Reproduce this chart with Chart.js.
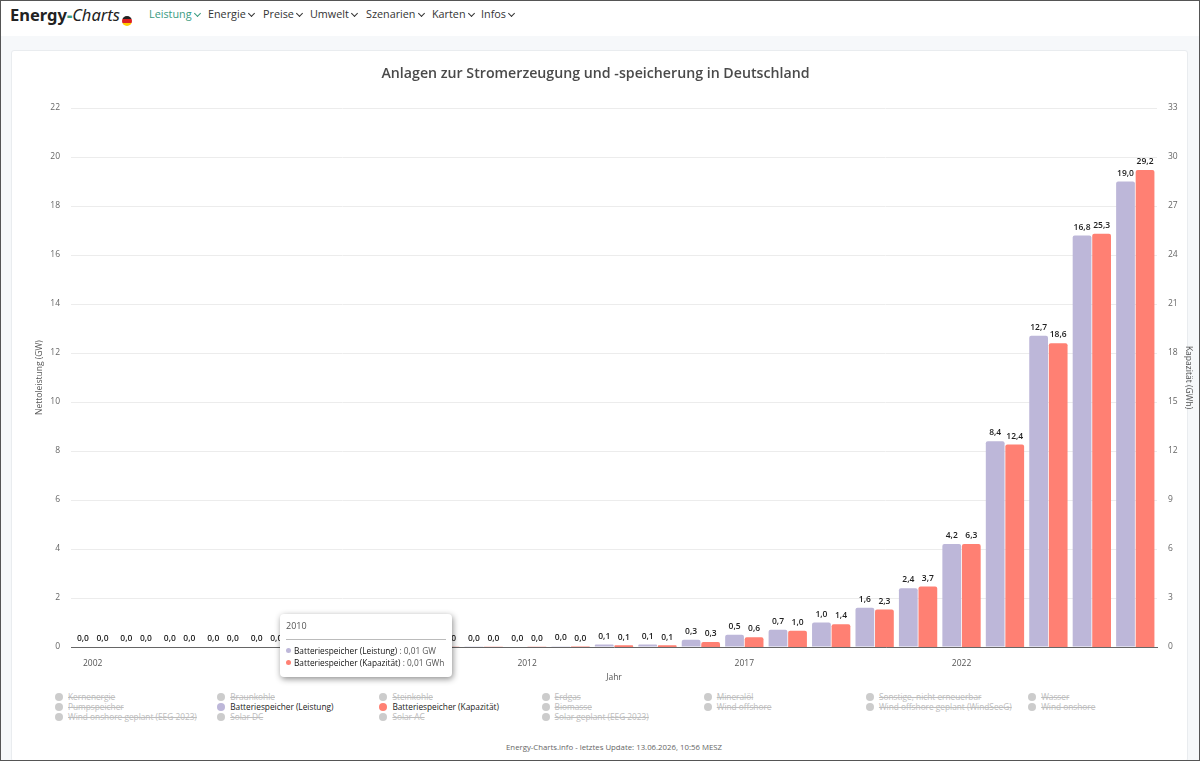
<!DOCTYPE html>
<html lang="de">
<head>
<meta charset="utf-8">
<title>Energy-Charts</title>
<script src="https://cdn.jsdelivr.net/npm/chart.js@4"></script>
<style>
    html, body { margin: 0; padding: 0; }
    body {
        width: 1200px; height: 761px; position: relative; overflow: hidden;
        background: #f6f8fa; font-family: "Open Sans", "Noto Sans", sans-serif; color: #333;
    }
    #frame { position: absolute; inset: 0; border: 1px solid #555; pointer-events: none; z-index: 9; }
    nav { position: absolute; left: 0; top: 0; width: 1200px; height: 36px; background: #fff; }
    #logo { position: absolute; left: 10px; top: 3px; font-family: "Noto Sans"; font-size: 16.5px; line-height: 24px; color: #222; font-weight: 700; }
    #logo i { font-weight: 400; }
    #logo b { color: #3a9b7f; }
    #flag { position: absolute; left: 122px; top: 16px; width: 10px; height: 10px; border-radius: 50%;
        background: linear-gradient(#222 0 33%, #d22 33% 66%, #fc0 66%); }
    .menu { position: absolute; top: 6px; font-size: 10.8px; line-height: 16px; color: #333; white-space: nowrap; }
    .menu::after { content: ""; display: inline-block; width: 4px; height: 4px; margin: 0 1px 2px 3px;
        border-right: 1.2px solid currentColor; border-bottom: 1.2px solid currentColor; transform: rotate(45deg); }
    .menu.on { color: #3a9b7f; }
    #card { position: absolute; left: 11px; top: 50px; width: 1177px; height: 712px; background: #fff;
        border: 1px solid #e9ecef; border-radius: 3px; box-sizing: border-box; }
    #wrap { position: absolute; left: -3px; top: 51px; width: 1197px; height: 632px; }
    #legend { position: absolute; left: 55px; top: 691px; width: 1140px; display: grid;
        grid-template-columns: repeat(7, 162.2px); grid-auto-rows: 10.2px; font-size: 8.3px; line-height: 10px; padding-top: 0.5px; }
    #legend div { white-space: nowrap; color: #bdbdbd; text-decoration: line-through; position: relative; padding-left: 13px; }
    #legend span { position: absolute; left: 0; top: 1px; width: 8px; height: 8px; border-radius: 50%; background: #ccc; }
    #legend div.on { color: #222; text-decoration: none; }
    #footer { position: absolute; left: 12px; width: 1204px; top: 742px; text-align: center; font-size: 7.8px; line-height: 10px; color: #666; }
    #tip { position: absolute; background: #fff; border-radius: 4px; box-shadow: 1px 2px 6px rgba(0,0,0,.45);
        box-sizing: border-box; padding: 5px 6px; font-size: 8.3px; line-height: 11.5px; color: #555; z-index: 5; white-space: nowrap; }
    #tip .head { font-size: 9px; line-height: 13px; padding-bottom: 7px; border-bottom: 1px solid #bbb; margin-bottom: 5px; }
    #tip .dot { display: inline-block; width: 5px; height: 5px; border-radius: 50%; margin: 0 3px 1px 0; }
    #tip b { font-weight: 400; color: #111; }
</style>
</head>
<body>
<nav>
    <div id="logo">Energy<b>-</b><i>Charts</i></div>
    <div id="flag"></div>
    <div class="menu on" style="left:149px">Leistung</div>
    <div class="menu" style="left:208px">Energie</div>
    <div class="menu" style="left:263px">Preise</div>
    <div class="menu" style="left:310px">Umwelt</div>
    <div class="menu" style="left:366px">Szenarien</div>
    <div class="menu" style="left:432px">Karten</div>
    <div class="menu" style="left:481px">Infos</div>
</nav>
<div id="card"></div>
<div id="wrap"><canvas id="chart"></canvas></div>
<div id="legend"></div>
<div id="footer">Energy-Charts.info - letztes Update: 13.06.2026, 10:56 MESZ</div>
<div id="tip" style="display:none"></div>
<div id="frame"></div>

<script>
const years = ["2002","2003","2004","2005","2006","2007","2008","2009","2010","2011","2012","2013","2014",
    "2015","2016","2017","2018","2019","2020","2021","2022","2023","2024","2025","2026"];
const leistung = [0,0,0,0,0,0,0,0,0.01,0.01,0.02,0.03,0.1,0.1,0.3,0.5,0.7,1.0,1.6,2.4,4.2,8.4,12.7,16.8,19.0];
const kapazitaet = [0,0,0,0,0,0,0,0,0.01,0.01,0.02,0.03,0.1,0.1,0.3,0.6,1.0,1.4,2.3,3.7,6.3,12.4,18.6,25.3,29.2];
const leftTicks = [0,2,4,6,8,10,12,14,16,18,20,22];
const rightTicks = [0,3,6,9,12,15,18,21,24,27,30,33];
const legendNames = ["Kernenergie","Braunkohle","Steinkohle","Erdgas","Mineralöl","Sonstige, nicht erneuerbar","Wasser",
    "Pumpspeicher","Batteriespeicher (Leistung)","Batteriespeicher (Kapazität)","Biomasse","Wind offshore","Wind offshore geplant (WindSeeG)","Wind onshore",
    "Wind onshore geplant (EEG 2023)","Solar DC","Solar AC","Solar geplant (EEG 2023)"];
const colorLeistung = "#bdb7d9";
const colorKapazitaet = "#ff8073";
const tipIndex = years.indexOf("2010");

const legend = document.getElementById("legend");
legendNames.forEach(name => {
    let color = "";
    if (name == "Batteriespeicher (Leistung)") color = colorLeistung;
    if (name == "Batteriespeicher (Kapazität)") color = colorKapazitaet;
    legend.innerHTML += `<div class="${color ? "on" : ""}"><span style="${color ? "background:" + color : ""}"></span>${name}</div>`;
});

// value labels above the bars
const barLabels = {
    id: "barLabels",
    afterDatasetsDraw(chart) {
        const ctx = chart.ctx;
        ctx.save();
        ctx.font = "600 8.5px 'Open Sans'";
        ctx.fillStyle = "#222";
        ctx.textAlign = "center";
        ctx.textBaseline = "bottom";
        chart.data.datasets.forEach((ds, i) => {
            chart.getDatasetMeta(i).data.forEach((bar, j) => {
                ctx.fillText(ds.data[j].toFixed(1).replace(".", ","), bar.x, bar.y - 4);
            });
        });
        ctx.restore();
    }
};

function showTip(context) {
    const tip = document.getElementById("tip");
    const t = context.tooltip;
    if (!t.dataPoints) return;
    const rows = t.dataPoints.map((p, i) => {
        const unit = i == 0 ? "GW" : "GWh";
        return `<div><span class="dot" style="background:${p.dataset.backgroundColor}"></span><b>${p.dataset.label}</b> : ${p.raw.toFixed(2).replace(".", ",")} ${unit}</div>`;
    }).join("");
    tip.innerHTML = `<div class="head">${t.title[0]}</div>${rows}`;
    tip.style.display = "block";
    tip.style.left = "280px";
    tip.style.top = "614px";
    tip.style.width = "172px";
    tip.style.height = "63px";
}

const chart = new Chart(document.getElementById("chart"), {
    type: "bar",
    data: {
        labels: years,
        datasets: [
            { label: "Batteriespeicher (Leistung)", data: leistung, yAxisID: "y", backgroundColor: colorLeistung, borderRadius: { topLeft: 2, topRight: 2 }, borderSkipped: "bottom" },
            { label: "Batteriespeicher (Kapazität)", data: kapazitaet, yAxisID: "y2", backgroundColor: colorKapazitaet, borderRadius: { topLeft: 2, topRight: 2 }, borderSkipped: "bottom" }
        ]
    },
    options: {
        responsive: true,
        maintainAspectRatio: false,
        animation: false,
        interaction: { mode: "index", intersect: false },
        categoryPercentage: 0.9,
        barPercentage: 0.96,
        layout: { padding: 0 },
        plugins: {
            legend: { display: false },
            title: {
                display: true,
                text: "Anlagen zur Stromerzeugung und -speicherung in Deutschland",
                color: "#4a4a4a",
                font: { family: "'Open Sans'", size: 14.2, weight: "600" },
                padding: { top: 14.5, bottom: 25.5 }
            },
            tooltip: { enabled: false, external: showTip }
        },
        scales: {
            x: {
                offset: true,
                afterFit(axis) { axis.height = 36; },
                grid: { display: false, drawTicks: false },
                border: { color: "#666", width: 1 },
                ticks: {
                    autoSkip: false, maxRotation: 0, color: "#555", padding: 11,
                    font: { family: "'Open Sans'", size: 8.5 },
                    callback(value, index) { return index % 5 == 0 ? years[index] : ""; }
                },
                title: { display: true, text: "Jahr", color: "#555", font: { family: "'Open Sans'", size: 8.5 }, padding: 0 }
            },
            y: {
                position: "left", min: 0, max: 22,
                afterBuildTicks(axis) { axis.ticks = leftTicks.map(v => ({ value: v })); },
                afterFit(axis) { axis.width = 74; },
                grid: { color: "#ececec", drawTicks: false },
                border: { display: false },
                ticks: { color: "#666", padding: 11, font: { family: "'Open Sans'", size: 8.5 } },
                title: { display: true, text: "Nettoleistung (GW)", color: "#555", font: { family: "'Open Sans'", size: 8.5 }, padding: { top: 37, bottom: 0 } }
            },
            y2: {
                position: "right", min: 0, max: 33,
                afterBuildTicks(axis) { axis.ticks = rightTicks.map(v => ({ value: v })); },
                afterFit(axis) { axis.width = 37; },
                grid: { display: false, drawTicks: false },
                border: { display: false },
                ticks: { color: "#666", padding: 11, font: { family: "'Open Sans'", size: 8.5 } },
                title: { display: true, text: "Kapazität (GWh)", color: "#555", font: { family: "'Open Sans'", size: 8.5 }, padding: 0 }
            }
        }
    },
    plugins: [barLabels]
});

chart.tooltip.setActiveElements([
    { datasetIndex: 0, index: tipIndex },
    { datasetIndex: 1, index: tipIndex }
], { x: 300, y: 500 });
chart.update();
</script>
</body>
</html>
